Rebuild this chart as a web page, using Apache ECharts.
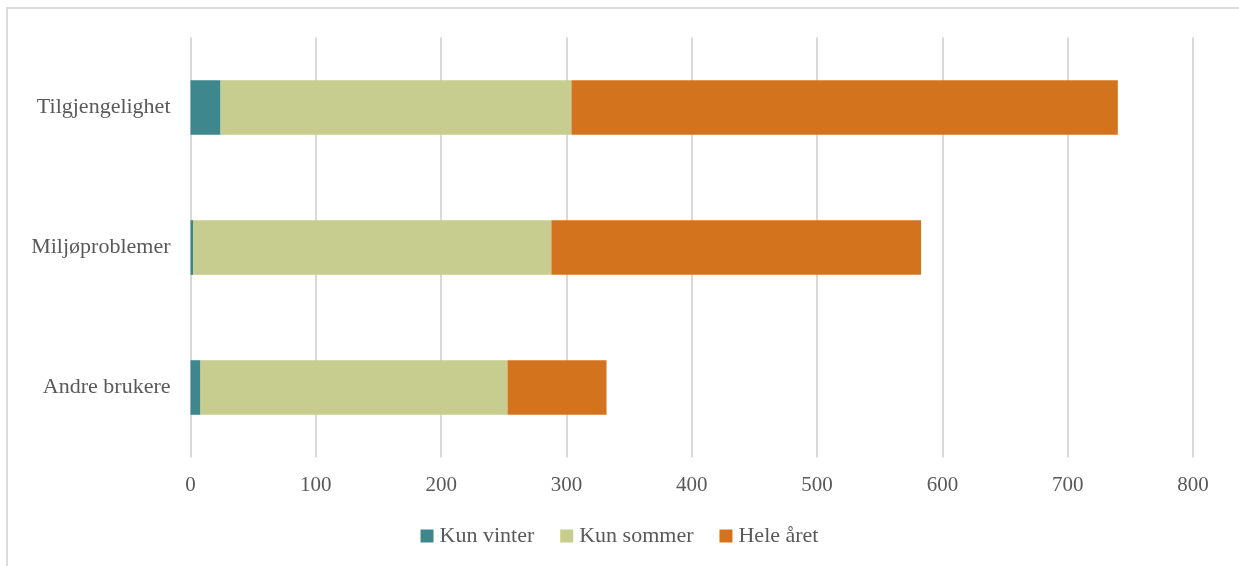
<!DOCTYPE html>
<html>
<head>
<meta charset="utf-8">
<script src="https://cdn.jsdelivr.net/npm/echarts@6/dist/echarts.min.js"></script>
<style>
    html, body { margin: 0; padding: 0; background: #fff; overflow: hidden; }
    #frame {
        position: absolute; left: 6px; top: 7px; width: 1300px; height: 600px;
        border: 2px solid #dcdcdc; box-sizing: border-box;
    }
    #chart { position: absolute; left: 0; top: 0; width: 1239px; height: 566px; }
</style>
</head>
<body>
<div id="frame"></div>
<div id="chart"></div>
<script>
    // kategorier (nederst først, slik ECharts tegner y-aksen)
    const categories = ['Andre brukere', 'Miljøproblemer', 'Tilgjengelighet'];
    const kunVinter = [8, 2, 24];
    const kunSommer = [245, 286, 280];
    const heleAret = [79, 295, 436];
    const xTicks = [0, 100, 200, 300, 400, 500, 600, 700, 800];

    const font = "'Liberation Serif', 'DejaVu Serif', serif";
    const chart = echarts.init(document.getElementById('chart'));

    const option = {
        animation: false,
        textStyle: { fontFamily: font },
        legend: {
            bottom: 14,
            left: 'center',
            itemWidth: 13,
            itemHeight: 13,
            itemGap: 26,
            icon: 'rect',
            textStyle: { fontFamily: font, fontSize: 22, color: '#595959', padding: [0, 0, 0, 1] },
            data: ['Kun vinter', 'Kun sommer', 'Hele året']
        },
        grid: { left: 190.5, right: 46, top: 37.5, height: 420, containLabel: false },
        xAxis: {
            type: 'value',
            min: xTicks[0],
            max: xTicks[xTicks.length - 1],
            interval: 100,
            axisLine: { show: false },
            axisTick: { show: false },
            splitLine: { lineStyle: { color: '#d9d9d9', width: 2 } },
            axisLabel: { fontFamily: font, fontSize: 21, color: '#595959', margin: 17 }
        },
        yAxis: {
            type: 'category',
            data: categories,
            axisLine: { show: false },
            axisTick: { show: false },
            axisLabel: { fontFamily: font, fontSize: 22, color: '#595959', margin: 20 }
        },
        series: [
            { name: 'Kun vinter', type: 'bar', stack: 'a', data: kunVinter, barWidth: '39%', itemStyle: { color: '#3e878d' } },
            { name: 'Kun sommer', type: 'bar', stack: 'a', data: kunSommer, barWidth: '39%', itemStyle: { color: '#c6cd8f' } },
            { name: 'Hele året', type: 'bar', stack: 'a', data: heleAret, barWidth: '39%', itemStyle: { color: '#d4731e' } }
        ]
    };
    chart.setOption(option);
</script>
</body>
</html>
